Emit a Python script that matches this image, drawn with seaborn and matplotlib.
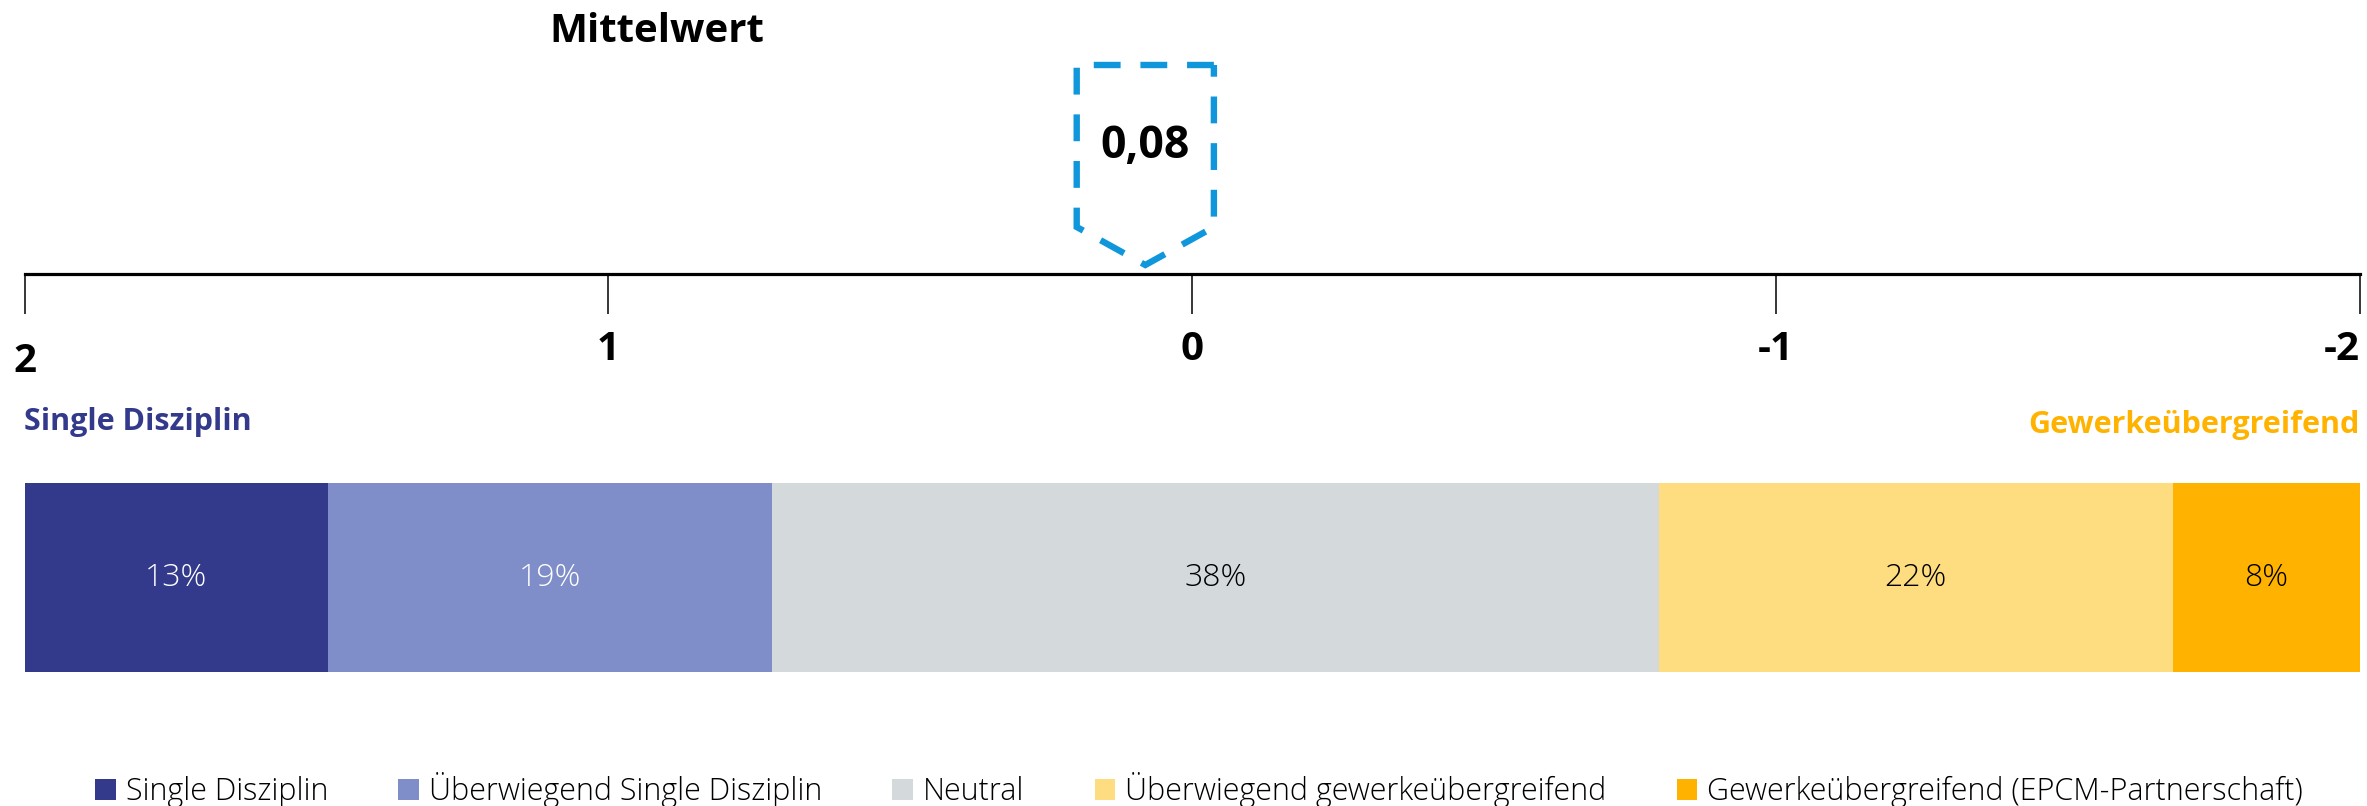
import matplotlib
matplotlib.use("Agg")
import matplotlib.pyplot as plt
from matplotlib.patches import Polygon, Patch
import numpy as np
import pandas as pd
import seaborn as sns

# --- data -------------------------------------------------------------
categories = [
    "Single Disziplin",
    "Überwiegend Single Disziplin",
    "Neutral",
    "Überwiegend gewerkeübergreifend",
    "Gewerkeübergreifend (EPCM-Partnerschaft)",
]
shares = [13, 19, 38, 22, 8]
colors = ["#333A8C", "#7F8DC9", "#D4D9DC", "#FEDC80", "#FFB300"]
label_colors = ["white", "white", "black", "black", "black"]

scale_ticks = [2, 1, 0, -1, -2]
scale_labels = ["2", "1", "0", "-1", "-2"]
mean_value = 0.08
mean_label = "0,08"
title = "Mittelwert"
left_pole = "Single Disziplin"
right_pole = "Gewerkeübergreifend"

# --- style ------------------------------------------------------------
sns.set_theme(style="white")
plt.rcParams["font.family"] = ["Open Sans", "DejaVu Sans"]

W, H = 2367, 806
fig = plt.figure(figsize=(W / 100, H / 100), dpi=100)


def fx(px):
    return px / W


def fy(py):
    return 1 - py / H


x_left, x_right = 24.5, 2359.5
axis_y = 274

# --- scale (2 ... -2) with the mean marker ---------------------------
ax_s = fig.add_axes([fx(x_left), fy(axis_y), fx(x_right - x_left), axis_y / H])
ax_s.set_xlim(2, -2)
ax_s.set_ylim(axis_y, 0)
ax_s.patch.set_visible(False)
for side in ("left", "right", "top"):
    ax_s.spines[side].set_visible(False)
ax_s.spines["bottom"].set_linewidth(2.3)
ax_s.spines["bottom"].set_color("black")
ax_s.set_yticks([])
ax_s.set_xticks(scale_ticks)
ax_s.tick_params(axis="x", direction="out", length=29, width=1.1,
                 color="black", bottom=True, labelbottom=False)

for v, lbl in zip(scale_ticks, scale_labels):
    ha = "right" if v == scale_ticks[-1] else "center"
    y = 362 if v == scale_ticks[0] else 350
    ax_s.text(v, y, lbl, ha=ha, va="center", fontsize=29,
              fontweight="bold", color="black")

# dashed pentagon pointing at the mean value
hw = 0.1175
pent = Polygon(
    [(mean_value - hw, 65), (mean_value + hw, 65), (mean_value + hw, 227),
     (mean_value, 265), (mean_value - hw, 227)],
    closed=True, fill=False, edgecolor="#1097DB", linewidth=4.6,
    linestyle=(0, (4.2, 3.1)), clip_on=False,
)
ax_s.add_patch(pent)
ax_s.text(mean_value, 147, mean_label, ha="center", va="center",
          fontsize=32, fontweight="bold", color="black")

fig.text(fx(657), fy(32), title, ha="center", va="center",
         fontsize=29, fontweight="bold", color="black")

ax_s.text(2, 422, left_pole, ha="left", va="center", fontsize=22,
          fontweight="bold", color=colors[0])
ax_s.text(-2, 425, right_pole, ha="right", va="center", fontsize=22,
          fontweight="bold", color=colors[-1])

# --- stacked share bar ------------------------------------------------
df = pd.DataFrame({"Kategorie": categories, "Anteil": shares})
df["Kumuliert"] = df["Anteil"].cumsum()
df["Gruppe"] = "Anteil"

ax_b = fig.add_axes([fx(x_left), fy(672), fx(x_right - x_left), 189 / H])
sns.barplot(
    data=df, x="Kumuliert", y="Gruppe", hue="Kategorie",
    hue_order=categories[::-1], palette=dict(zip(categories, colors)),
    dodge=False, width=1.0, saturation=1, legend=False, orient="h",
    linewidth=0, ax=ax_b,
)
ax_b.set_xlim(0, 100)
ax_b.set_ylim(0.5, -0.5)
ax_b.axis("off")

starts = df["Kumuliert"] - df["Anteil"]
for s, a, c in zip(starts, df["Anteil"], label_colors):
    ax_b.text(s + a / 2, 0, f"{a}%", ha="center", va="center",
              fontsize=23, fontweight="light", color=c)

# --- legend -----------------------------------------------------------
handles = [Patch(facecolor=c, edgecolor="none", label=cat)
           for cat, c in zip(categories, colors)]
fig.legend(
    handles=handles, loc="center", bbox_to_anchor=(fx(1199), fy(790)),
    ncol=5, frameon=False, handlelength=0.68,
    handleheight=0.68, handletextpad=0.32, columnspacing=2.3,
    borderpad=0, borderaxespad=0, labelcolor="black",
    prop={"size": 22, "weight": "light"},
)

fig.savefig("out.png", dpi=100, facecolor="white")
